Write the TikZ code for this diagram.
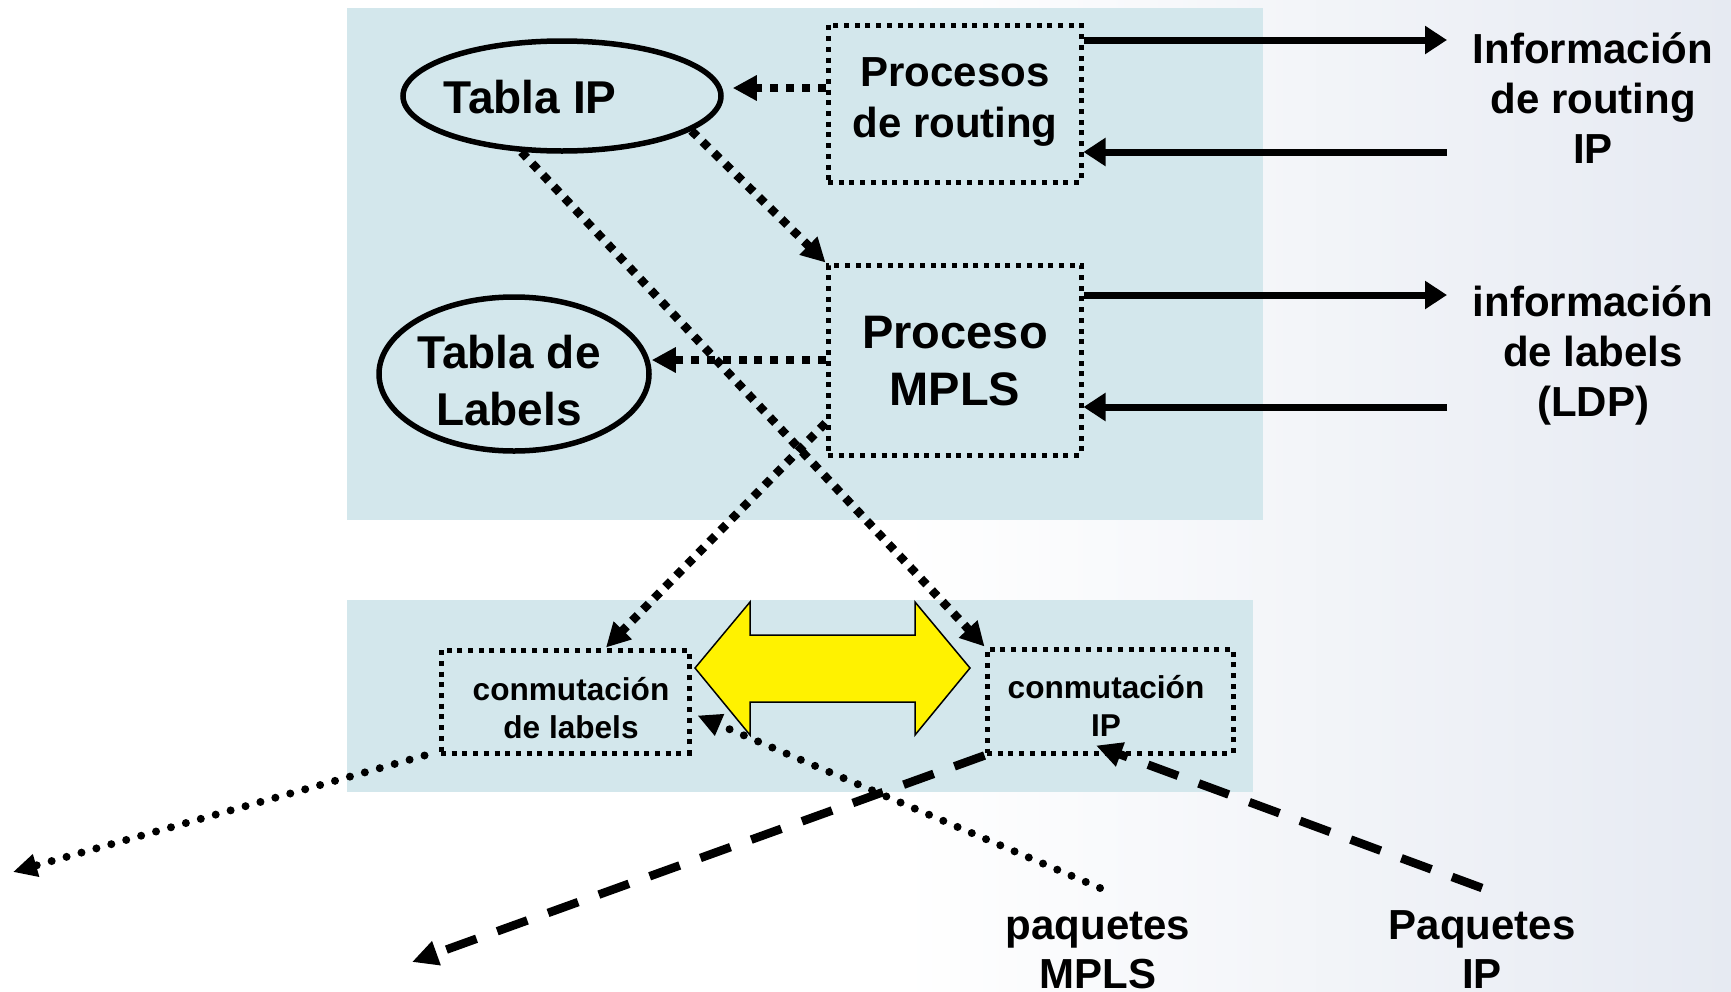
\documentclass[tikz,border=0pt]{standalone}
\usepackage{fontspec}
\setmainfont{Liberation Sans}
\usetikzlibrary{arrows.meta,shapes.geometric}
\definecolor{panel}{RGB}{211,231,236}
\definecolor{bgR}{RGB}{230,234,242}
\newcommand\myfs[2]{\bfseries\fontsize{#1}{#2}\selectfont}
\begin{document}
\begin{tikzpicture}[x=1pt,y=-1pt,
  txt/.style={align=center, inner sep=0pt},
  dotbox/.style={draw=black, line width=5pt, dash pattern=on 5pt off 5.7pt, inner sep=0pt},
  oval/.style={ellipse, draw=black, line width=5.5pt, inner sep=0pt},
  solidarrow/.style={line width=7pt, -{Triangle[length=22pt,width=27pt]}},
  sqdot/.style={line width=8.5pt, dash pattern=on 8pt off 7.8pt, -{Triangle[length=24pt,width=24pt]}},
  rounddot/.style={line width=8pt, line cap=round, dash pattern=on 0pt off 15.5pt, -{Triangle[length=24pt,width=22pt]}},
  dashline/.style={line width=8.5pt, dash pattern=on 32pt off 22pt, -{Triangle[length=26pt,width=24pt]}},
  yarrow/.style={fill=yellow, draw=black, line width=1.5pt, line join=miter}
]
\useasboundingbox (0,0) rectangle (1731,991);
% background
\fill[white] (0,0) rectangle (1731,991);
\shade[left color=white, right color=bgR] (900,0) rectangle (1731,991);
% panels
\fill[panel] (347,8) rectangle (1263,520);
\fill[panel] (347,600) rectangle (1253,792);

% ellipses
\node[oval, minimum width=318pt, minimum height=110pt] (tip) at (562,96) {};
\node[txt, font=\myfs{46}{55}] (tiptxt) at (530,97) {Tabla IP};
\node[oval, minimum width=270pt, minimum height=154pt] (tlab) at (514,374) {};
\node[txt, font=\myfs{46}{57}] (tlabtxt) at (509,381) {Tabla de\\Labels};

% boxes
\node[dotbox, minimum width=253pt, minimum height=157pt] (proc) at (954.5,103.5) {};
\node[txt, font=\myfs{42}{51}] (proctxt) at (955,102) {Procesos\\de routing};
\node[dotbox, minimum width=253pt, minimum height=190pt] (mpls) at (954.5,360) {};
\node[txt, font=\myfs{47}{57}] (mplstxt) at (955,361) {Proceso\\MPLS};
\node[dotbox, minimum width=248pt, minimum height=103pt] (clab) at (565,701.5) {};
\node[txt, font=\myfs{31.6}{38}] (clabtxt) at (571,708) {conmutación\\de labels};
\node[dotbox, minimum width=246pt, minimum height=104pt] (cip) at (1110,701) {};
\node[txt, font=\myfs{31.6}{38}] (ciptxt) at (1106,706) {conmutación\\IP};

% outside labels
\node[txt, font=\myfs{42}{50}] (inforout) at (1593,98) {Información\\de routing\\IP};
\node[txt, font=\myfs{42}{50}] (infolab) at (1593,355) {información\\de labels\\(LDP)};
\node[txt, font=\myfs{42}{49}] (paqmpls) at (1098,950) {paquetes\\MPLS};
\node[txt, font=\myfs{42}{49}] (paqip) at (1482,950) {Paquetes\\IP};

% yellow double arrow
\draw[yarrow] (695,668) -- (750,602) -- (750,635) -- (915,635) -- (915,602) -- (970,668)
  -- (915,735) -- (915,702) -- (750,702) -- (750,735) -- cycle;

% free ends
\coordinate (r1) at (1447,40);
\coordinate (r2) at (1447,152);
\coordinate (r3) at (1447,295);
\coordinate (r4) at (1447,407);
\coordinate (outL) at (13,872);
\coordinate (inM) at (1100,888);
\coordinate (outIP) at (412,962);
\coordinate (inIP) at (1482,888);

% solid arrows
\draw[solidarrow] (proc.east |- r1) -- (r1);
\draw[solidarrow] (r2) -- (proc.east |- r2);
\draw[solidarrow] (mpls.east |- r3) -- (r3);
\draw[solidarrow] (r4) -- (mpls.east |- r4);

% square-dotted arrows
\draw[sqdot] ([yshift=15.5pt]proc.west) -- ([xshift=9pt,yshift=8pt]tip.east);
\draw[sqdot] (tip.-15) -- (mpls.north west);
\draw[sqdot] (tip.-126) -- (cip.north west);
\draw[sqdot] (mpls.west) -- (tlab.east |- mpls.west);
\draw[sqdot] ([yshift=-63pt]mpls.west) -- ([xshift=41pt]clab.north);

% round-dotted arrows
\draw[rounddot] ([xshift=-14pt]clab.south west) -- (outL);
\draw[rounddot] (inM) -- ([xshift=6pt,yshift=-14pt]clab.east);

% dashed arrows
\draw[dashline] (cip.south west) -- (outIP);
\draw[dashline] (inIP) -- ([xshift=-14pt,yshift=10pt]cip.south);
\end{tikzpicture}
\end{document}
